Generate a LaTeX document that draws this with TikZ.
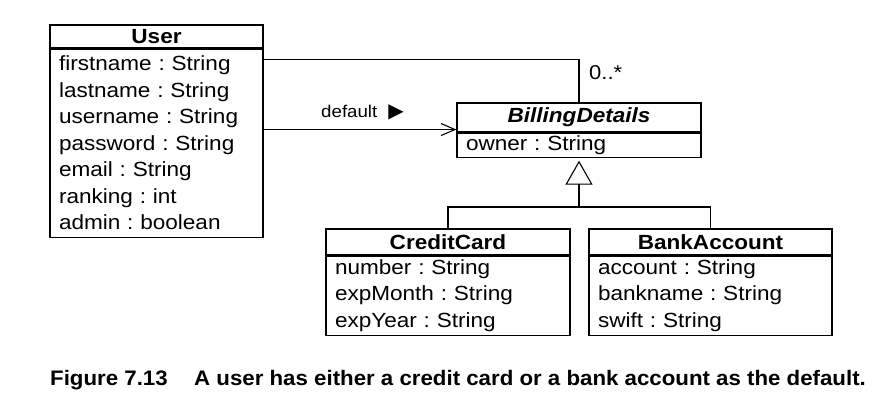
\documentclass[tikz,border=0pt]{standalone}
\usepackage{fontspec}
\newfontfamily\umlfont[FakeStretch=1.1]{Liberation Sans}
\newfontfamily\capfont[FakeStretch=1.06]{Liberation Sans}
\newfontfamily\symfont{DejaVu Sans}
\usetikzlibrary{arrows.meta,calc}
\frenchspacing

\tikzset{
  classhead/.style={draw, line width=1.1pt, font={\umlfont\fontsize{20.5}{24}\selectfont\bfseries}, inner sep=0pt},
  classbody/.style={draw, line width=1.1pt, font={\umlfont\fontsize{20.5}{26.5}\selectfont}, align=left, inner xsep=9pt, inner ysep=0pt, anchor=north},
  umlline/.style={line width=1.1pt},
  umllabel/.style={font={\umlfont\fontsize{17}{20}\selectfont}, inner sep=0pt, anchor=west},
  figcap/.style={font={\capfont\bfseries\fontsize{21}{24}\selectfont}, inner sep=0pt, anchor=base west},
}

\begin{document}
\begin{tikzpicture}[x=1pt,y=1pt,yscale=-1,xscale=1]
\useasboundingbox (0,0) rectangle (890,412);

% Class Node
\node[classhead, minimum width=213pt, minimum height=23pt] (userHead) at (156.5,36.5) {User};
\node[classbody, text width=195pt, minimum height=188pt] (userBody) at (userHead.south) {firstname : String\\
lastname : String\\
username : String\\
password : String\\
email : String\\
ranking : int\\
admin : boolean};

% Class Node
\node[classhead, minimum width=244pt, minimum height=29pt] (bdHead) at (579,117.5) {\itshape BillingDetails};
\node[classbody, text width=226pt, minimum height=24pt] (bdBody) at (bdHead.south) {owner : String};

% Class Node
\node[classhead, minimum width=244pt, minimum height=26pt] (ccHead) at (448,242) {CreditCard};
\node[classbody, text width=226pt, minimum height=79pt] (ccBody) at (ccHead.south) {number : String\\
expMonth : String\\
expYear : String};

% Class Node
\node[classhead, minimum width=243pt, minimum height=26pt] (baHead) at (710.5,242) {BankAccount};
\node[classbody, text width=225pt, minimum height=79pt] (baBody) at (baHead.south) {account : String\\
bankname : String\\
swift : String};

%Straight Lines
\draw[umlline] ($(userBody.north east)+(0,11)$) -| (bdHead.north);

%Straight Lines
\coordinate (defaultEnd) at ($(bdHead.south west)+(0,-3)$);
\draw[umlline, -{Straight Barb[length=14pt,width=12pt]}] (userBody.east |- defaultEnd) -- (defaultEnd);

%Straight Lines
\coordinate (fork) at (579,207);
\draw[umlline] (ccHead.north) |- (fork) -| (baHead.north);
\draw[umlline, -{Triangle[open, length=24pt, width=27pt]}, shorten >=3pt] (fork) -- (bdBody.south);

% Text Node
\node[umllabel] (defaultLabel) at (321,112) {default\hspace{11pt}{\symfont\fontsize{20}{22}\selectfont ▶}};
% Text Node
\node[umllabel, font={\umlfont\fontsize{20}{24}\selectfont}] (multLabel) at (589,73) {0..*};

% Text Node
\node[figcap] (figNum) at (50,385) {Figure 7.13};
\node[figcap] (figText) at (194,385) {A user has either a credit card or a bank account as the default.};

\end{tikzpicture}
\end{document}
